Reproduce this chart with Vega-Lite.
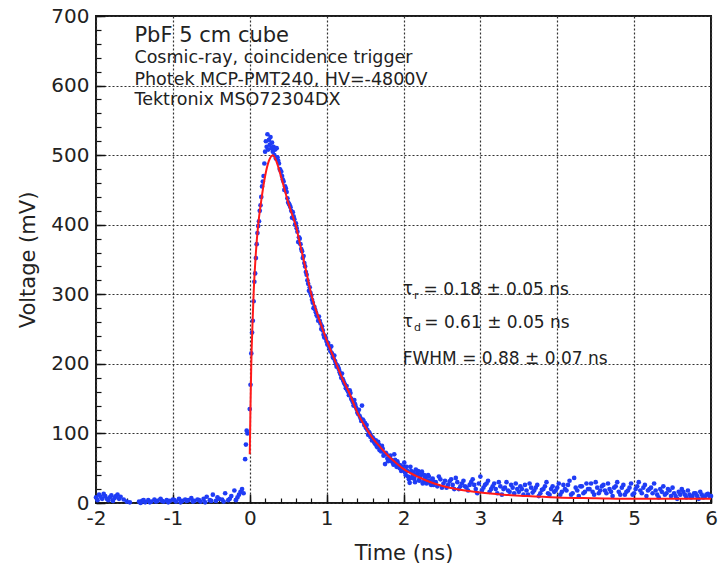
{
  "$schema": "https://vega.github.io/schema/vega-lite/v6.json",
  "width": 615,
  "height": 487,
  "autosize": "none",
  "padding": {"left": 96, "top": 16, "right": 8, "bottom": 70},
  "background": "white",
  "config": {
    "view": {"stroke": "#1a1a1a", "strokeWidth": 2},
    "font": "DejaVu Sans"
  },
  "datasets": {
    "pts": [
      {"t": -2.00, "v": 8}, {"t": -1.96, "v": 12}, {"t": -1.92, "v": 6}, {"t": -1.88, "v": 10}, {"t": -1.84, "v": 4}, {"t": -1.80, "v": 11}, {"t": -1.76, "v": 7}, {"t": -1.72, "v": 12}, {"t": -1.68, "v": 9}, {"t": -1.64, "v": 5}, {"t": -1.60, "v": 2}, {"t": -1.56, "v": 1},
      {"t": -1.98, "v": 4}, {"t": -1.94, "v": 9}, {"t": -1.90, "v": 13}, {"t": -1.86, "v": 6}, {"t": -1.82, "v": 8}, {"t": -1.78, "v": 3}, {"t": -1.74, "v": 10}, {"t": -1.70, "v": 6},
      {"t": -1.44, "v": 2}, {"t": -1.40, "v": 3}, {"t": -1.36, "v": 1}, {"t": -1.32, "v": 4}, {"t": -1.28, "v": 2}, {"t": -1.24, "v": 5}, {"t": -1.20, "v": 3}, {"t": -1.16, "v": 6}, {"t": -1.12, "v": 2}, {"t": -1.08, "v": 4}, {"t": -1.04, "v": 3}, {"t": -1.00, "v": 5}, {"t": -0.96, "v": 2}, {"t": -0.92, "v": 6}, {"t": -0.88, "v": 3}, {"t": -0.84, "v": 5}, {"t": -0.80, "v": 4}, {"t": -0.76, "v": 7}, {"t": -0.72, "v": 3}, {"t": -0.68, "v": 5}, {"t": -0.64, "v": 2}, {"t": -0.60, "v": 6}, {"t": -0.56, "v": 9}, {"t": -0.52, "v": 4}, {"t": -0.48, "v": 12}, {"t": -0.44, "v": 3}, {"t": -0.40, "v": 6}, {"t": -0.36, "v": 5}, {"t": -0.32, "v": 14}, {"t": -0.28, "v": 4}, {"t": -0.24, "v": 10}, {"t": -0.20, "v": 18}, {"t": -0.16, "v": 8}, {"t": -0.12, "v": 16}, {"t": -0.10, "v": 20}, {"t": -0.08, "v": 14}, {"t": -0.06, "v": 63}, {"t": -0.05, "v": 84}, {"t": -0.04, "v": 104}, {"t": -0.03, "v": 100},
      {"t": -1.42, "v": 0}, {"t": -1.38, "v": 4}, {"t": -1.30, "v": 1}, {"t": -1.22, "v": 2}, {"t": -1.14, "v": 3}, {"t": -1.06, "v": 1}, {"t": -0.98, "v": 4}, {"t": -0.90, "v": 1}, {"t": -0.82, "v": 3}, {"t": -0.74, "v": 2}, {"t": -0.66, "v": 4}, {"t": -0.58, "v": 1}, {"t": -0.50, "v": 3}, {"t": -0.42, "v": 8}, {"t": -0.34, "v": 2}, {"t": -0.26, "v": 6}, {"t": -0.18, "v": 4}, {"t": -0.14, "v": 12},
      {"t": 0.00, "v": 135}, {"t": 0.02, "v": 215}, {"t": 0.04, "v": 262}, {"t": 0.06, "v": 318}, {"t": 0.08, "v": 352}, {"t": 0.10, "v": 388}, {"t": 0.12, "v": 405}, {"t": 0.14, "v": 428}, {"t": 0.16, "v": 455}, {"t": 0.18, "v": 470}, {"t": 0.20, "v": 505}, {"t": 0.21, "v": 520}, {"t": 0.22, "v": 512}, {"t": 0.23, "v": 530}, {"t": 0.24, "v": 508}, {"t": 0.25, "v": 522}, {"t": 0.26, "v": 515}, {"t": 0.27, "v": 526}, {"t": 0.28, "v": 510}, {"t": 0.29, "v": 518}, {"t": 0.30, "v": 505}, {"t": 0.31, "v": 512}, {"t": 0.32, "v": 500}, {"t": 0.33, "v": 508}, {"t": 0.34, "v": 495}, {"t": 0.36, "v": 497}, {"t": 0.38, "v": 488}, {"t": 0.40, "v": 478}, {"t": 0.42, "v": 470}, {"t": 0.44, "v": 462}, {"t": 0.46, "v": 455}, {"t": 0.48, "v": 447}, {"t": 0.50, "v": 432}, {"t": 0.52, "v": 428}, {"t": 0.54, "v": 420}, {"t": 0.56, "v": 418}, {"t": 0.58, "v": 408}, {"t": 0.60, "v": 402}, {"t": 0.62, "v": 390}, {"t": 0.64, "v": 382}, {"t": 0.66, "v": 372}, {"t": 0.68, "v": 362}, {"t": 0.70, "v": 355}, {"t": 0.72, "v": 340}, {"t": 0.74, "v": 328}, {"t": 0.76, "v": 315}, {"t": 0.78, "v": 310}, {"t": 0.80, "v": 298}, {"t": 0.82, "v": 288}, {"t": 0.84, "v": 282}, {"t": 0.86, "v": 274}, {"t": 0.88, "v": 268}, {"t": 0.90, "v": 268}, {"t": 0.92, "v": 258}, {"t": 0.94, "v": 254}, {"t": 0.96, "v": 242}, {"t": 0.98, "v": 240}, {"t": 1.00, "v": 232}, {"t": 1.02, "v": 230}, {"t": 1.04, "v": 222}, {"t": 1.06, "v": 225}, {"t": 1.08, "v": 210}, {"t": 1.10, "v": 212}, {"t": 1.12, "v": 200}, {"t": 1.14, "v": 198}, {"t": 1.16, "v": 192}, {"t": 1.18, "v": 185}, {"t": 1.20, "v": 186}, {"t": 1.22, "v": 175}, {"t": 1.24, "v": 170}, {"t": 1.26, "v": 168}, {"t": 1.28, "v": 160}, {"t": 1.30, "v": 162}, {"t": 1.32, "v": 150}, {"t": 1.34, "v": 145}, {"t": 1.36, "v": 148}, {"t": 1.38, "v": 138}, {"t": 1.40, "v": 130}, {"t": 1.42, "v": 134}, {"t": 1.44, "v": 122}, {"t": 1.46, "v": 140}, {"t": 1.48, "v": 118}, {"t": 1.50, "v": 115}, {"t": 1.52, "v": 112}, {"t": 1.54, "v": 98}, {"t": 1.56, "v": 100}, {"t": 1.58, "v": 96}, {"t": 1.60, "v": 94}, {"t": 1.62, "v": 87}, {"t": 1.64, "v": 90}, {"t": 1.66, "v": 80}, {"t": 1.68, "v": 84}, {"t": 1.70, "v": 78}, {"t": 1.72, "v": 82}, {"t": 1.74, "v": 68}, {"t": 1.76, "v": 56}, {"t": 1.78, "v": 70}, {"t": 1.80, "v": 60}, {"t": 1.82, "v": 66}, {"t": 1.84, "v": 62}, {"t": 1.86, "v": 58}, {"t": 1.88, "v": 70}, {"t": 1.90, "v": 56}, {"t": 1.92, "v": 60}, {"t": 1.94, "v": 52}, {"t": 1.96, "v": 54}, {"t": 1.98, "v": 50}, {"t": 2.00, "v": 48},
      {"t": 0.01, "v": 170}, {"t": 0.03, "v": 245}, {"t": 0.05, "v": 290}, {"t": 0.07, "v": 330}, {"t": 0.09, "v": 372}, {"t": 0.11, "v": 398}, {"t": 0.13, "v": 420}, {"t": 0.15, "v": 440}, {"t": 0.17, "v": 462}, {"t": 0.19, "v": 488}, {"t": 0.35, "v": 510}, {"t": 0.37, "v": 492}, {"t": 0.39, "v": 480}, {"t": 0.41, "v": 476}, {"t": 0.43, "v": 465}, {"t": 0.45, "v": 450}, {"t": 0.47, "v": 452}, {"t": 0.49, "v": 438}, {"t": 0.51, "v": 430}, {"t": 0.53, "v": 425}, {"t": 0.55, "v": 410}, {"t": 0.57, "v": 412}, {"t": 0.59, "v": 400}, {"t": 0.61, "v": 395}, {"t": 0.63, "v": 375}, {"t": 0.65, "v": 380}, {"t": 0.67, "v": 365}, {"t": 0.69, "v": 352}, {"t": 0.71, "v": 345}, {"t": 0.73, "v": 332}, {"t": 0.75, "v": 320}, {"t": 0.77, "v": 305}, {"t": 0.79, "v": 302}, {"t": 0.81, "v": 292}, {"t": 0.83, "v": 280}, {"t": 0.85, "v": 278}, {"t": 0.87, "v": 270}, {"t": 0.89, "v": 262}, {"t": 0.91, "v": 262}, {"t": 0.93, "v": 250}, {"t": 0.95, "v": 248}, {"t": 0.97, "v": 238}, {"t": 0.99, "v": 236}, {"t": 1.01, "v": 228}, {"t": 1.03, "v": 225}, {"t": 1.05, "v": 218}, {"t": 1.07, "v": 215}, {"t": 1.09, "v": 208}, {"t": 1.11, "v": 204}, {"t": 1.13, "v": 196}, {"t": 1.15, "v": 195}, {"t": 1.17, "v": 188}, {"t": 1.19, "v": 180}, {"t": 1.21, "v": 178}, {"t": 1.23, "v": 172}, {"t": 1.25, "v": 165}, {"t": 1.27, "v": 162}, {"t": 1.29, "v": 155}, {"t": 1.31, "v": 158}, {"t": 1.33, "v": 148}, {"t": 1.35, "v": 140}, {"t": 1.37, "v": 142}, {"t": 1.39, "v": 135}, {"t": 1.41, "v": 128}, {"t": 1.43, "v": 125}, {"t": 1.45, "v": 118}, {"t": 1.47, "v": 120}, {"t": 1.49, "v": 112}, {"t": 1.51, "v": 108}, {"t": 1.53, "v": 105}, {"t": 1.55, "v": 102}, {"t": 1.57, "v": 95}, {"t": 1.59, "v": 90}, {"t": 1.61, "v": 92}, {"t": 1.63, "v": 85}, {"t": 1.65, "v": 82}, {"t": 1.67, "v": 88}, {"t": 1.69, "v": 76}, {"t": 1.71, "v": 74}, {"t": 1.73, "v": 78}, {"t": 1.75, "v": 70}, {"t": 1.77, "v": 72}, {"t": 1.79, "v": 64}, {"t": 1.81, "v": 62}, {"t": 1.83, "v": 68}, {"t": 1.85, "v": 60}, {"t": 1.87, "v": 55}, {"t": 1.89, "v": 62}, {"t": 1.91, "v": 52}, {"t": 1.93, "v": 56}, {"t": 1.95, "v": 50}, {"t": 1.97, "v": 46}, {"t": 1.99, "v": 52},
      {"t": 2.02, "v": 44}, {"t": 2.04, "v": 52}, {"t": 2.06, "v": 38}, {"t": 2.08, "v": 29}, {"t": 2.10, "v": 46}, {"t": 2.12, "v": 40}, {"t": 2.14, "v": 35}, {"t": 2.16, "v": 48}, {"t": 2.18, "v": 42}, {"t": 2.20, "v": 33}, {"t": 2.22, "v": 38}, {"t": 2.24, "v": 45}, {"t": 2.26, "v": 30}, {"t": 2.28, "v": 36}, {"t": 2.30, "v": 28}, {"t": 2.32, "v": 40}, {"t": 2.34, "v": 32}, {"t": 2.36, "v": 26}, {"t": 2.38, "v": 35}, {"t": 2.40, "v": 30},
      {"t": 2.01, "v": 58}, {"t": 2.03, "v": 40}, {"t": 2.05, "v": 46}, {"t": 2.07, "v": 34}, {"t": 2.09, "v": 52}, {"t": 2.11, "v": 36}, {"t": 2.13, "v": 44}, {"t": 2.15, "v": 30}, {"t": 2.17, "v": 40}, {"t": 2.19, "v": 46}, {"t": 2.21, "v": 32}, {"t": 2.23, "v": 42}, {"t": 2.25, "v": 28}, {"t": 2.27, "v": 40}, {"t": 2.29, "v": 34}, {"t": 2.31, "v": 30}, {"t": 2.33, "v": 38}, {"t": 2.35, "v": 28}, {"t": 2.37, "v": 33}, {"t": 2.39, "v": 26},
      {"t": 2.44, "v": 24}, {"t": 2.48, "v": 34}, {"t": 2.52, "v": 28}, {"t": 2.56, "v": 22}, {"t": 2.60, "v": 31}, {"t": 2.64, "v": 26}, {"t": 2.68, "v": 36}, {"t": 2.72, "v": 20}, {"t": 2.76, "v": 28}, {"t": 2.80, "v": 24}, {"t": 2.84, "v": 18}, {"t": 2.88, "v": 30}, {"t": 2.92, "v": 26}, {"t": 2.96, "v": 14}, {"t": 3.00, "v": 38}, {"t": 3.04, "v": 22}, {"t": 3.08, "v": 28}, {"t": 3.12, "v": 16}, {"t": 3.16, "v": 24}, {"t": 3.20, "v": 20}, {"t": 3.24, "v": 30}, {"t": 3.28, "v": 12}, {"t": 3.32, "v": 22}, {"t": 3.36, "v": 18}, {"t": 3.40, "v": 26}, {"t": 3.44, "v": 14}, {"t": 3.48, "v": 20}, {"t": 3.52, "v": 24}, {"t": 3.56, "v": 12}, {"t": 3.60, "v": 18}, {"t": 3.64, "v": 28}, {"t": 3.68, "v": 15}, {"t": 3.72, "v": 22}, {"t": 3.76, "v": 10}, {"t": 3.80, "v": 19}, {"t": 3.84, "v": 24}, {"t": 3.88, "v": 14}, {"t": 3.92, "v": 20}, {"t": 3.96, "v": 16}, {"t": 4.00, "v": 22}, {"t": 4.04, "v": 12}, {"t": 4.08, "v": 26}, {"t": 4.12, "v": 18}, {"t": 4.16, "v": 32}, {"t": 4.20, "v": 14}, {"t": 4.24, "v": 22}, {"t": 4.28, "v": 10}, {"t": 4.32, "v": 24}, {"t": 4.36, "v": 16}, {"t": 4.40, "v": 20}, {"t": 4.44, "v": 28}, {"t": 4.48, "v": 12}, {"t": 4.52, "v": 22}, {"t": 4.56, "v": 18}, {"t": 4.60, "v": 26}, {"t": 4.64, "v": 14}, {"t": 4.68, "v": 20}, {"t": 4.72, "v": 10}, {"t": 4.76, "v": 24}, {"t": 4.80, "v": 16}, {"t": 4.84, "v": 22}, {"t": 4.88, "v": 12}, {"t": 4.92, "v": 18}, {"t": 4.96, "v": 28}, {"t": 5.00, "v": 14}, {"t": 5.04, "v": 24}, {"t": 5.08, "v": 18}, {"t": 5.12, "v": 22}, {"t": 5.16, "v": 10}, {"t": 5.20, "v": 20}, {"t": 5.24, "v": 14}, {"t": 5.28, "v": 18}, {"t": 5.32, "v": 8}, {"t": 5.36, "v": 16}, {"t": 5.40, "v": 12}, {"t": 5.44, "v": 20}, {"t": 5.48, "v": 10}, {"t": 5.52, "v": 14}, {"t": 5.56, "v": 6}, {"t": 5.60, "v": 12}, {"t": 5.64, "v": 16}, {"t": 5.68, "v": 8}, {"t": 5.72, "v": 12}, {"t": 5.76, "v": 10}, {"t": 5.80, "v": 14}, {"t": 5.84, "v": 6}, {"t": 5.88, "v": 12}, {"t": 5.92, "v": 9}, {"t": 5.96, "v": 13}, {"t": 6.00, "v": 10},
      {"t": 2.42, "v": 30}, {"t": 2.46, "v": 38}, {"t": 2.50, "v": 22}, {"t": 2.54, "v": 32}, {"t": 2.58, "v": 26}, {"t": 2.62, "v": 34}, {"t": 2.66, "v": 20}, {"t": 2.70, "v": 30}, {"t": 2.74, "v": 24}, {"t": 2.78, "v": 32}, {"t": 2.82, "v": 22}, {"t": 2.86, "v": 26}, {"t": 2.90, "v": 34}, {"t": 2.94, "v": 20}, {"t": 2.98, "v": 28}, {"t": 3.02, "v": 18}, {"t": 3.06, "v": 26}, {"t": 3.10, "v": 32}, {"t": 3.14, "v": 20}, {"t": 3.18, "v": 28}, {"t": 3.22, "v": 14}, {"t": 3.26, "v": 24}, {"t": 3.30, "v": 20}, {"t": 3.34, "v": 30}, {"t": 3.38, "v": 16}, {"t": 3.42, "v": 22}, {"t": 3.46, "v": 28}, {"t": 3.50, "v": 16}, {"t": 3.54, "v": 20}, {"t": 3.58, "v": 26}, {"t": 3.62, "v": 12}, {"t": 3.66, "v": 22}, {"t": 3.70, "v": 18}, {"t": 3.74, "v": 26}, {"t": 3.78, "v": 14}, {"t": 3.82, "v": 20}, {"t": 3.86, "v": 30}, {"t": 3.90, "v": 12}, {"t": 3.94, "v": 24}, {"t": 3.98, "v": 18}, {"t": 4.02, "v": 28}, {"t": 4.06, "v": 16}, {"t": 4.10, "v": 20}, {"t": 4.14, "v": 26}, {"t": 4.18, "v": 12}, {"t": 4.22, "v": 36}, {"t": 4.26, "v": 18}, {"t": 4.30, "v": 24}, {"t": 4.34, "v": 14}, {"t": 4.38, "v": 28}, {"t": 4.42, "v": 20}, {"t": 4.46, "v": 16}, {"t": 4.50, "v": 30}, {"t": 4.54, "v": 14}, {"t": 4.58, "v": 24}, {"t": 4.62, "v": 18}, {"t": 4.66, "v": 28}, {"t": 4.70, "v": 16}, {"t": 4.74, "v": 22}, {"t": 4.78, "v": 30}, {"t": 4.82, "v": 12}, {"t": 4.86, "v": 26}, {"t": 4.90, "v": 16}, {"t": 4.94, "v": 22}, {"t": 4.98, "v": 12}, {"t": 5.02, "v": 20}, {"t": 5.06, "v": 30}, {"t": 5.10, "v": 14}, {"t": 5.14, "v": 26}, {"t": 5.18, "v": 18}, {"t": 5.22, "v": 22}, {"t": 5.26, "v": 28}, {"t": 5.30, "v": 12}, {"t": 5.34, "v": 20}, {"t": 5.38, "v": 24}, {"t": 5.42, "v": 14}, {"t": 5.46, "v": 18}, {"t": 5.50, "v": 22}, {"t": 5.54, "v": 10}, {"t": 5.58, "v": 16}, {"t": 5.62, "v": 20}, {"t": 5.66, "v": 12}, {"t": 5.70, "v": 18}, {"t": 5.74, "v": 8}, {"t": 5.78, "v": 14}, {"t": 5.82, "v": 10}, {"t": 5.86, "v": 16}, {"t": 5.90, "v": 8}, {"t": 5.94, "v": 12}, {"t": 5.98, "v": 10}
    ],
    "fit": [
      {"t": 0.0, "v": 70}, {"t": 0.01, "v": 140}, {"t": 0.02, "v": 200}, {"t": 0.035, "v": 255}, {"t": 0.05, "v": 300}, {"t": 0.08, "v": 360}, {"t": 0.11, "v": 400}, {"t": 0.15, "v": 435}, {"t": 0.2, "v": 470}, {"t": 0.25, "v": 492}, {"t": 0.3, "v": 500}, {"t": 0.35, "v": 490}, {"t": 0.4, "v": 472}, {"t": 0.45, "v": 452}, {"t": 0.5, "v": 432}, {"t": 0.55, "v": 415}, {"t": 0.6, "v": 398}, {"t": 0.65, "v": 374}, {"t": 0.7, "v": 350}, {"t": 0.75, "v": 325}, {"t": 0.8, "v": 300}, {"t": 0.9, "v": 265}, {"t": 1.0, "v": 234}, {"t": 1.1, "v": 207}, {"t": 1.2, "v": 180}, {"t": 1.3, "v": 157}, {"t": 1.4, "v": 130}, {"t": 1.5, "v": 110}, {"t": 1.6, "v": 93}, {"t": 1.7, "v": 80}, {"t": 1.8, "v": 68}, {"t": 1.9, "v": 58}, {"t": 2.0, "v": 49}, {"t": 2.2, "v": 37}, {"t": 2.4, "v": 28}, {"t": 2.6, "v": 22}, {"t": 2.8, "v": 18}, {"t": 3.0, "v": 15}, {"t": 3.3, "v": 12}, {"t": 3.6, "v": 10}, {"t": 4.0, "v": 8}, {"t": 4.5, "v": 7}, {"t": 5.0, "v": 6}, {"t": 5.5, "v": 6}, {"t": 6.0, "v": 6}
    ],
    "head": [{"t": -1.5, "v": 671, "label": "PbF 5 cm cube"}],
    "info": [
      {"t": -1.5, "v": 639, "label": "Cosmic-ray, coincidence trigger"},
      {"t": -1.5, "v": 608, "label": "Photek MCP-PMT240, HV=-4800V"},
      {"t": -1.5, "v": 579, "label": "Tektronix MSO72304DX"}
    ],
    "res": [
      {"t": 1.99, "v": 307, "label": "τ"},
      {"t": 2.26, "v": 306, "label": "= 0.18 ± 0.05 ns"},
      {"t": 1.99, "v": 260, "label": "τ"},
      {"t": 2.27, "v": 259, "label": "= 0.61 ± 0.05 ns"},
      {"t": 1.99, "v": 207, "label": "FWHM = 0.88 ± 0.07 ns"}
    ],
    "sub": [
      {"t": 2.135, "v": 298, "label": "r"},
      {"t": 2.135, "v": 251, "label": "d"}
    ]
  },
  "layer": [
    {
      "data": {"name": "pts"},
      "mark": {"type": "circle", "size": 22, "color": "#1f3cf5", "opacity": 1},
      "encoding": {
        "x": {
          "field": "t", "type": "quantitative",
          "scale": {"domain": [-2, 6], "nice": false, "zero": false},
          "axis": {
            "orient": "bottom", "values": [-2, -1, 0, 1, 2, 3, 4, 5, 6],
            "labelExpr": "'' + datum.value",
            "grid": true, "gridDash": [2, 2], "gridColor": "#333", "gridWidth": 1.2,
            "ticks": false, "domain": false, "labelFlush": false,
            "labelFontSize": 20, "labelColor": "#222", "labelPadding": 5,
            "title": "Time (ns)", "titleFontSize": 21, "titleFontWeight": "normal", "titleColor": "#222", "titlePadding": 14
          }
        },
        "y": {
          "field": "v", "type": "quantitative",
          "scale": {"domain": [0, 700], "nice": false},
          "axis": {
            "orient": "left", "values": [0, 100, 200, 300, 400, 500, 600, 700],
            "grid": true, "gridDash": [2, 2], "gridColor": "#333", "gridWidth": 1.2,
            "ticks": false, "domain": false, "labelFlush": false,
            "labelFontSize": 20, "labelColor": "#222", "labelPadding": 7,
            "title": "Voltage (mV)", "titleFontSize": 21, "titleFontWeight": "normal", "titleColor": "#222", "titlePadding": 12
          }
        }
      }
    },
    {
      "data": {"name": "fit"},
      "mark": {"type": "line", "color": "#ff1a1a", "strokeWidth": 2, "interpolate": "monotone"},
      "encoding": {
        "x": {
          "field": "t", "type": "quantitative",
          "axis": {
            "orient": "bottom",
            "values": [-2, -1.8, -1.6, -1.4, -1.2, -1, -0.8, -0.6, -0.4, -0.2, 0, 0.2, 0.4, 0.6, 0.8, 1, 1.2, 1.4, 1.6, 1.8, 2, 2.2, 2.4, 2.6, 2.8, 3, 3.2, 3.4, 3.6, 3.8, 4, 4.2, 4.4, 4.6, 4.8, 5, 5.2, 5.4, 5.6, 5.8, 6],
            "labels": false, "grid": false, "domain": false, "title": null,
            "tickSize": -5, "tickColor": "#111", "tickWidth": 1.2
          }
        },
        "y": {
          "field": "v", "type": "quantitative",
          "axis": {
            "orient": "left",
            "values": [0, 20, 40, 60, 80, 100, 120, 140, 160, 180, 200, 220, 240, 260, 280, 300, 320, 340, 360, 380, 400, 420, 440, 460, 480, 500, 520, 540, 560, 580, 600, 620, 640, 660, 680, 700],
            "labels": false, "grid": false, "domain": false, "title": null,
            "tickSize": -5, "tickColor": "#111", "tickWidth": 1.2
          }
        }
      }
    },
    {
      "data": {"name": "head"},
      "mark": {"type": "text", "align": "left", "baseline": "middle", "fontSize": 21, "color": "#222"},
      "encoding": {
        "x": {
          "field": "t", "type": "quantitative",
          "axis": {
            "orient": "bottom", "values": [-2, -1, 0, 1, 2, 3, 4, 5, 6],
            "labels": false, "grid": false, "domain": false, "title": null,
            "tickSize": -9, "tickColor": "#111", "tickWidth": 1.5
          }
        },
        "y": {
          "field": "v", "type": "quantitative",
          "axis": {
            "orient": "left", "values": [0, 100, 200, 300, 400, 500, 600, 700],
            "labels": false, "grid": false, "domain": false, "title": null,
            "tickSize": -9, "tickColor": "#111", "tickWidth": 1.5
          }
        },
        "text": {"field": "label"}
      }
    },
    {
      "data": {"name": "info"},
      "mark": {"type": "text", "align": "left", "baseline": "middle", "fontSize": 17.5, "color": "#222"},
      "encoding": {
        "x": {"field": "t", "type": "quantitative", "axis": null},
        "y": {"field": "v", "type": "quantitative", "axis": null},
        "text": {"field": "label"}
      }
    },
    {
      "data": {"name": "res"},
      "mark": {"type": "text", "align": "left", "baseline": "middle", "fontSize": 17, "color": "#222"},
      "encoding": {
        "x": {"field": "t", "type": "quantitative", "axis": null},
        "y": {"field": "v", "type": "quantitative", "axis": null},
        "text": {"field": "label"}
      }
    },
    {
      "data": {"name": "sub"},
      "mark": {"type": "text", "align": "left", "baseline": "middle", "fontSize": 11, "color": "#222"},
      "encoding": {
        "x": {"field": "t", "type": "quantitative", "axis": null},
        "y": {"field": "v", "type": "quantitative", "axis": null},
        "text": {"field": "label"}
      }
    }
  ],
  "resolve": {"axis": {"x": "independent", "y": "independent"}}
}
